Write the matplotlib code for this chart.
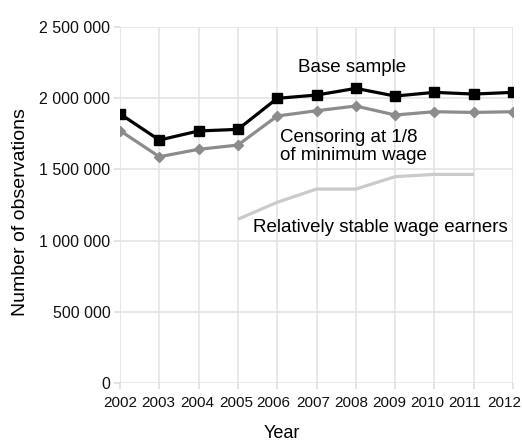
import numpy as np
import matplotlib.pyplot as plt
import matplotlib.transforms as mtransforms
from matplotlib.ticker import FuncFormatter

years = [2002, 2003, 2004, 2005, 2006, 2007, 2008, 2009, 2010, 2011, 2012]
base_sample = [1890000, 1706000, 1770000, 1781000, 1999000, 2022000,
               2069000, 2015000, 2041000, 2029000, 2041000]
censored = [1772000, 1589000, 1641000, 1671000, 1875000, 1912000,
            1945000, 1882000, 1905000, 1900000, 1905000]
stable_years = [2005, 2006, 2007, 2008, 2009, 2010, 2011]
stable = [1150000, 1269000, 1362000, 1362000, 1449000, 1465000, 1465000]
y_ticks = [0, 500000, 1000000, 1500000, 2000000, 2500000]

plt.rcParams['font.family'] = ['Liberation Sans', 'DejaVu Sans']

fig = plt.figure(figsize=(5.22, 4.41), dpi=100)
ax = fig.add_axes([0.2299, 0.1315, 0.7529, 0.8073])

# series
ax.plot(stable_years, stable, color='#cacaca', lw=2.3, solid_capstyle='butt', zorder=3)
ax.plot(years, censored, color='#8c8c8c', lw=2.3, marker='D', ms=5.5, zorder=4)
ax.plot(years, base_sample, color='black', lw=2.3, marker='s', ms=7, zorder=5)

ax.set_xlim(2002, 2012)
ax.set_ylim(0, 2500000)
ax.set_xticks(years)
ax.set_yticks(y_ticks)
ax.yaxis.set_major_formatter(FuncFormatter(lambda v, p: f'{int(v):,}'.replace(',', ' ')))
ax.grid(True, color='#e2e2e2', lw=1.1)
ax.set_axisbelow(True)
for s in ax.spines.values():
    s.set_visible(False)
ax.tick_params(colors='#dcdcdc', labelcolor='#111111', length=4, width=1.1)
ax.tick_params(axis='x', labelsize=11, pad=5)
ax.tick_params(axis='y', labelsize=11.5, pad=3)

# year labels drift slightly left in the original, last one stays inside
shifts = [0, -1, -1.5, -2, -3.5, -3.5, -5, -5.5, -7, -9, -9]
for lab, dx in zip(ax.get_xticklabels(), shifts):
    lab.set_transform(lab.get_transform() + mtransforms.ScaledTranslation(dx / 100, 0, fig.dpi_scale_trans))

fig.text(0.539, 0.036, 'Year', ha='center', va='top', fontsize=13)
fig.text(0.040, 0.52, 'Number of observations', rotation=90, ha='center', va='center', fontsize=14)

# series labels
ax.text(2007.9, 2219000, 'Base sample', ha='center', va='center', fontsize=13.5)
ax.text(2006.07, 1661000, 'Censoring at 1/8\nof minimum wage', ha='left', va='center',
        fontsize=13.5, linespacing=1.1)
ax.text(2005.38, 1095000, 'Relatively stable wage earners', ha='left', va='center', fontsize=13.5)

fig.savefig('out.png', dpi=100)
